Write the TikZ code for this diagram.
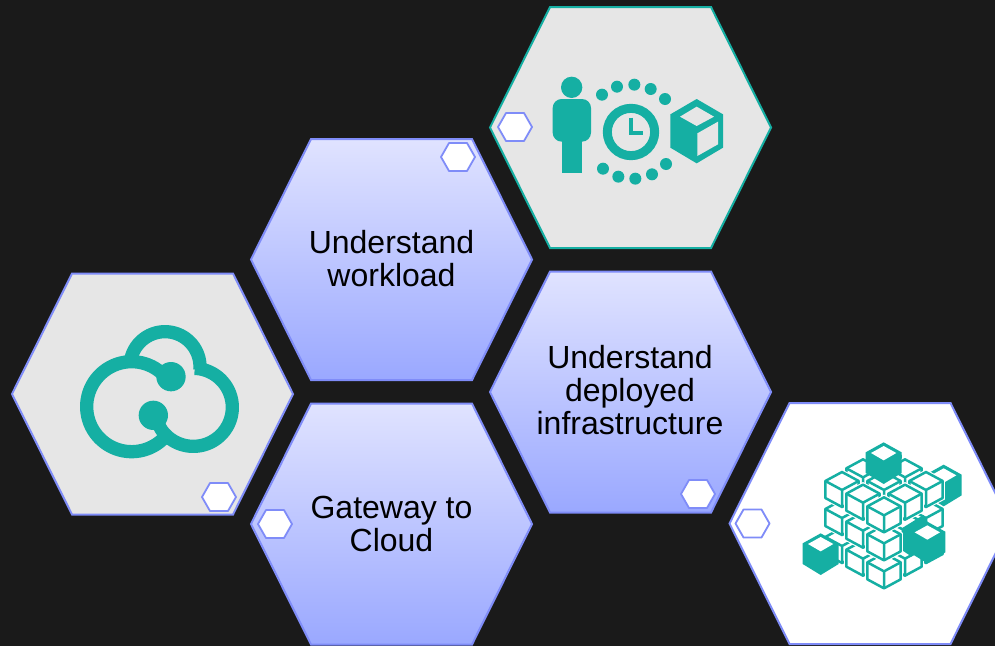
\documentclass[tikz,border=0pt]{standalone}
\usepackage{fontspec}
\setmainfont{Liberation Sans}
\definecolor{bgc}{HTML}{1A1A1A}
\definecolor{teal1}{HTML}{15AFA3}
\definecolor{edge1}{HTML}{7F8CF8}
\definecolor{greyf}{HTML}{E6E6E6}
\definecolor{gtop}{HTML}{E0E3FF}
\definecolor{gbot}{HTML}{9AA8FF}
\tikzset{
  hexgrey/.style={draw=edge1,line width=2pt,fill=greyf,line join=miter},
  hexteal/.style={draw=teal1,line width=2pt,fill=greyf,line join=miter},
  hexwhite/.style={draw=edge1,line width=2pt,fill=white,line join=miter},
  hexgrad/.style={draw=edge1,line width=2pt,top color=gtop,bottom color=gbot,shading angle=0,line join=miter},
  badge/.style={draw=edge1,line width=1.8pt,fill=white,line join=round},
  label/.style={align=center,text=black,font=\fontsize{32}{33}\selectfont,inner sep=0pt},
  ring/.style={draw=teal1,line width=13.3pt,line cap=butt,line join=round}
}
\newcommand{\hexpath}[2]{(#1,#2) -- ++(60,-120.5) -- ++(161,0) -- ++(60,120.5) -- ++(-60,120.5) -- ++(-161,0) -- cycle}
\newcommand{\badgepath}[2]{(#1-17,#2) -- ++(8,-14) -- ++(18,0) -- ++(8,14) -- ++(-8,14) -- ++(-18,0) -- cycle}
\newcommand{\wirecube}[2]{%
  \begin{scope}[shift={(#1,#2)}]
    \draw[white,line width=4.6pt,fill=white] (0,0) -- (50,27) -- (50,78) -- (0,105) -- (-50,78) -- (-50,27) -- cycle;
    \draw[teal1,line width=2.5pt,fill=white,line join=round] (0,0) -- (50,27) -- (50,78) -- (0,105) -- (-50,78) -- (-50,27) -- cycle;
    \draw[teal1,line width=2.5pt,line join=round] (-50,27) -- (0,54) -- (50,27) (0,54) -- (0,105);
  \end{scope}}
\newcommand{\solidcube}[2]{%
  \begin{scope}[shift={(#1,#2)}]
    \fill[teal1] (0,0) -- (54,30) -- (54,92) -- (0,125) -- (-54,92) -- (-54,30) -- cycle;
    \fill[white] (0,11) -- (38,32) -- (0,54) -- (-38,32) -- cycle;
  \end{scope}}
\begin{document}
\begin{tikzpicture}[x=1pt,y=-1pt]
\useasboundingbox (0,0) rectangle (995,646);
\fill[bgc] (0,0) rectangle (995,646);

% hexagons
\draw[hexteal] \hexpath{490}{127.5};
\draw[hexgrad] \hexpath{251}{259.5};
\draw[hexgrad] \hexpath{490}{392};
\draw[hexgrad] \hexpath{251}{524};
\draw[hexgrey] \hexpath{12}{394};
\begin{scope}
  \clip (0,0) rectangle (995,646);
  \draw[hexwhite] \hexpath{729.5}{523.5};
\end{scope}

% texts
\node[label] (workload) at (391.5,259) {Understand\\workload};
\node[label] (infra) at (630,390) {Understand\\deployed\\infrastructure};
\node[label] (gateway) at (391.5,523.5) {Gateway to\\Cloud};

% person / clock / box icon
\begin{scope}[shift={(490,0)},scale=1/3]
  \fill[teal1] (245,262) circle (32);
  \fill[teal1,rounded corners=9pt] (188,297) rectangle (303,425);
  \fill[teal1] (215,400) rectangle (276,520);
  \foreach \px/\py in {336/284,381/260,433/254,482/267,525/297,339/506,385/530,436/536,486/523,528/492}
    \fill[teal1] (\px,\py) circle (18);
  \draw[teal1,line width=9pt] (423,396) circle (71);
  \draw[teal1,line width=4pt] (423,353) -- (423,400) -- (458,400);
  \fill[teal1] (620,297) -- (699,343) -- (699,443) -- (620,490) -- (541,443) -- (541,343) -- cycle;
  \fill[greyf] (620,320) -- (672,350) -- (620,378) -- (570,350) -- cycle;
  \fill[greyf] (684,365) -- (684,433) -- (622,468) -- (622,400) -- cycle;
\end{scope}

% cloud icon
\begin{scope}[shift={(60,310)},scale=1/3]
  \draw[ring] plot[domain=-37:-322,samples=90] ({215+135*cos(\x)},{290+135*sin(\x)});
  \draw[ring] plot[domain=-168:5,samples=60] ({315+105*cos(\x)},{170+105*sin(\x)});
  \draw[ring] plot[domain=-88:145,samples=90] ({400+117*cos(\x)},{292+117*sin(\x)}) -- (280,316);
  \fill[teal1] (333,200) circle (44);
  \fill[teal1] (280,316) circle (44);
\end{scope}

% block cube icon
\begin{scope}[shift={(730,400)},scale=1/3]
  \solidcube{641}{194}
  \foreach \k in {2,1,0}
    \foreach \i in {2,1,0}
      \foreach \j in {2,1,0}
        {\wirecube{462-63*\i+63*\j}{292-38*\i-38*\j+84*\k}}
  \fill[teal1] (515,385) -- (580,345) -- (595,370) -- (545,470) -- (515,450) -- cycle;
  \solidcube{592}{365}
  \solidcube{272}{400}
  \wirecube{462}{460}
  \wirecube{462}{376}
  \wirecube{462}{292}
  \solidcube{461}{127}
\end{scope}

% badges
\draw[badge] \badgepath{515}{127};
\draw[badge] \badgepath{458}{157};
\draw[badge] \badgepath{698}{494};
\draw[badge] \badgepath{275}{524};
\draw[badge] \badgepath{219}{497};
\draw[badge] \badgepath{752.5}{523.5};
\end{tikzpicture}
\end{document}
